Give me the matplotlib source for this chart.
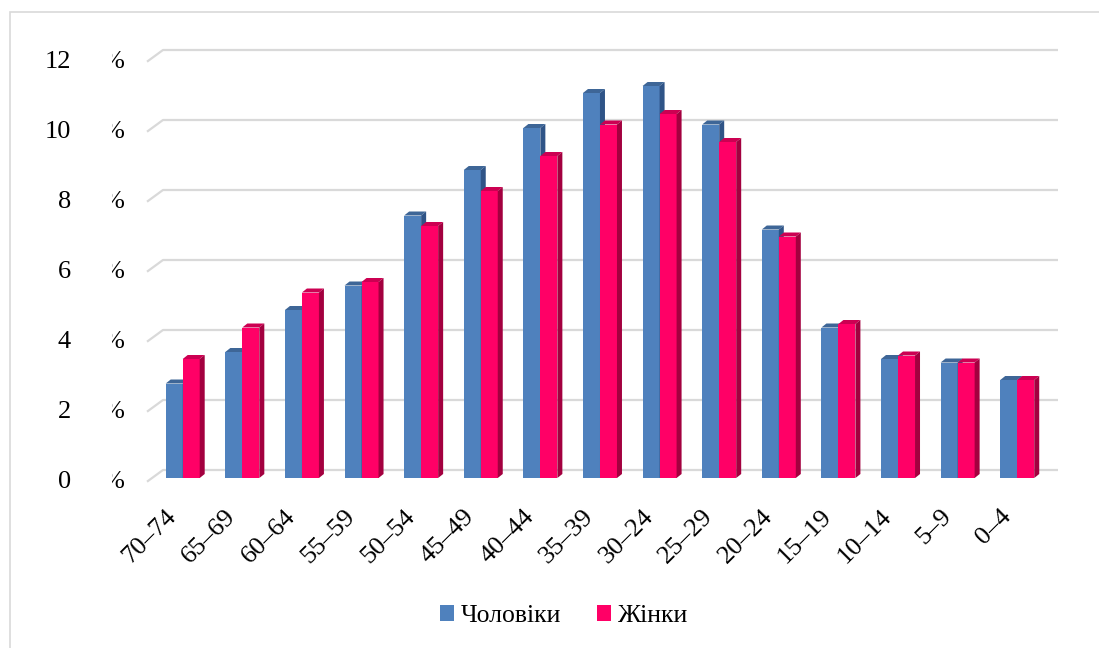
import matplotlib
matplotlib.use("Agg")
import matplotlib.pyplot as plt
from matplotlib.patches import Rectangle, Polygon
from matplotlib.transforms import IdentityTransform

categories = ["70–74", "65–69", "60–64", "55–59", "50–54", "45–49", "40–44",
              "35–39", "30–24", "25–29", "20–24", "15–19", "10–14", "5–9", "0–4"]
men = [2.7, 3.6, 4.8, 5.5, 7.5, 8.8, 10.0, 11.0, 11.2, 10.1, 7.1, 4.3, 3.4, 3.3, 2.8]
women = [3.4, 4.3, 5.3, 5.6, 7.2, 8.2, 9.2, 10.1, 10.4, 9.6, 6.9, 4.4, 3.5, 3.3, 2.8]
yticks = [0, 2, 4, 6, 8, 10, 12]
series_names = ["Чоловіки", "Жінки"]

W, H = 1099, 648
fig = plt.figure(figsize=(W / 100, H / 100), dpi=100)
FONT = "Liberation Serif"

# axes geometry in pixels (from top)
ax_l, ax_r, ax_t, ax_b = 147, 1058, 40, 478
ppx = 59.61   # pixels per category
ppy = 35.0    # pixels per unit
c0 = 182.7    # pixel of first category center
ax = fig.add_axes([ax_l / W, (H - ax_b) / H, (ax_r - ax_l) / W, (ax_b - ax_t) / H])
ax.set_xlim((ax_l - c0) / ppx, (ax_r - c0) / ppx)
ax.set_ylim(0, (ax_b - ax_t) / ppy)
ax.axis("off")

xl, xr = ax.get_xlim()
grid_col = "#D9D9D9"
for v in yticks:
    ax.plot([xl, xl + 16 / ppx, xr], [v - 3.7 / ppy, v + 8 / ppy, v + 8 / ppy],
            color=grid_col, lw=1.6, clip_on=False, zorder=1, solid_capstyle="butt")

# y tick labels and clipped percent signs
clip = Rectangle((112, 0), 30, H, transform=IdentityTransform(), visible=False)
fig.add_artist(clip)
for v in yticks:
    ypix = ax_b - ppy * v + 3.7
    fig.text(71 / W, (H - ypix) / H, str(v), ha="right", va="center",
             fontsize=19, family=FONT, color="#000000")
    t = fig.text(124 / W, (H - ypix) / H, "%", ha="right", va="center",
                 fontsize=19, family=FONT, color="#000000")
    t.set_clip_path(clip)

bw = 17 / ppx
dx, dy = 5 / ppx, 4 / ppy
styles = [
    dict(front="#4F81BD", top="#3E6697", side="#2F5487"),
    dict(front="#FF0066", top="#CC0052", side="#A3003F"),
]
for si, vals in enumerate([men, women]):
    st = styles[si]
    for i, h in enumerate(vals):
        x0 = i - bw if si == 0 else i
        x1 = x0 + bw
        ax.add_patch(Rectangle((x0, 0), bw, h, facecolor=st["front"], edgecolor="none",
                               zorder=3 + si))
        ax.add_patch(Polygon([(x0, h), (x1, h), (x1 + dx, h + dy), (x0 + dx, h + dy)],
                             closed=True, facecolor=st["top"], edgecolor="none",
                             zorder=3 + si))
        ax.add_patch(Polygon([(x1, 0), (x1 + dx, dy), (x1 + dx, h + dy), (x1, h)],
                             closed=True, facecolor=st["side"], edgecolor="none",
                             zorder=3 + si))

# x labels
for i, lab in enumerate(categories):
    xpix = c0 + ppx * i - 2
    fig.text(xpix / W, (H - 505) / H, lab, ha="right", va="top", rotation=45,
             fontsize=19, family=FONT, color="#000000")

# legend
handles = [Rectangle((0, 0), 1, 1, facecolor=s["front"], edgecolor="none") for s in styles]
fig.legend(handles, series_names, loc="center", bbox_to_anchor=(564 / W, (H - 616) / H),
           ncol=2, frameon=False, prop={"family": FONT, "size": 18.5},
           handlelength=0.55, handleheight=0.55, handletextpad=0.25, columnspacing=1.4)

# outer border
fig.add_artist(Rectangle((10 / W, -0.05), 1.2, (H - 12) / H + 0.05, transform=fig.transFigure,
                         facecolor="none", edgecolor="#D9D9D9", lw=1.2))

fig.savefig("out.png", dpi=100, facecolor="white")
